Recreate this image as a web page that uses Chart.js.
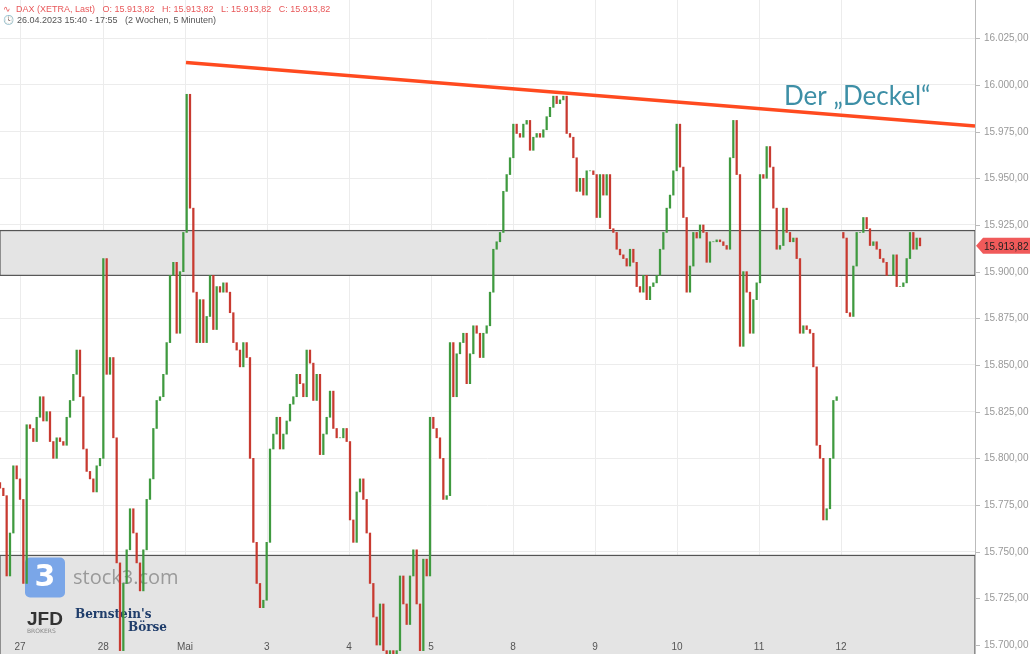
<!DOCTYPE html>
<html><head><meta charset="utf-8">
<script src="https://cdn.jsdelivr.net/npm/chart.js@4.4.1/dist/chart.umd.min.js"></script>
<style>html,body{margin:0;padding:0;background:#fff;}#w{position:relative;width:1030px;height:654px;}</style>
</head><body><div id="w"><canvas id="c" width="1030" height="654"></canvas></div>
<script>
const closes = [
15784,15780,15737,15760,15796,15789,15778,15733,15818,15816,15809,15822,15833,15820,15825,15809,15800,15811,15809,15807,
15822,15831,15845,15858,15833,15805,15793,15789,15782,15796,15800,15907,15845,15854,15811,15744,15697,15733,15751,15773,
15760,15744,15729,15751,15778,15789,15816,15831,15833,15845,15862,15898,15905,15867,15900,15921,15995,15934,15889,15862,
15885,15862,15876,15898,15869,15892,15889,15894,15889,15878,15862,15858,15849,15862,15854,15800,15755,15733,15720,15724,
15755,15805,15813,15822,15805,15813,15820,15829,15833,15845,15840,15833,15858,15851,15831,15845,15802,15813,15822,15836,
15816,15811,
15811,15816,15809,15767,15755,15782,15789,15778,15760,15733,15715,15700,15722,15697,15693,15697,15695,15697,15737,15722,
15711,15737,15751,15722,15697,15746,15737,15822,15816,15811,15800,15778,15780,15862,15833,15856,15862,15867,15840,15856,
15871,15867,15854,15867,15871,15889,15912,15916,15921,15943,15952,15961,15979,15974,15972,15979,15981,15965,15972,15974,
15972,15976,15983,15988,15994,15990,15992,15994,15974,15972,15961,15943,15950,15941,15954,15954,15952,15929,15952,15941,
15952,15923,15921,15912,15909,15907,15903,15912,15905,15892,15889,15898,15885,15892,15894,15898,15912,15921,15934,
15941,15954,15979,15956,15929,15889,15903,15921,15918,15925,15921,15905,15916,15916,15917,15916,15914,15912,15961,15981,
15952,15860,15900,15889,15867,15885,15894,15952,15950,15967,15956,15934,15912,15914,15934,15921,15916,15918,15907,15867,
15871,15869,15867,15849,15807,15800,15767,15773,15800,15831,15833,null,15918,15878,15876,15903,15921,15921,15929,15923,
15914,15916,15912,15907,15905,15898,15898,15909,15892,15892,15894,15907,15921,15912,15918,15913.82];
const dayLabels = ['27','28','Mai','3','4','5','8','9','10','11','12'];
const dayStarts = [6,31,55.5,80,104.7,129.3,153.9,178.5,203.1,227.7,252.3];
const yTicks = [15700,15725,15750,15775,15800,15825,15850,15875,15900,15925,15950,15975,16000,16025];
const trendX = [55.8,292.5];
const trendY = [16012,15978];
const zoneUpper = [15898,15922];
const zoneLower = [15600,15748];
const lastPrice = 15913.82;

const bodies=[], colors=[];
closes.forEach((c,i)=>{
  if(c===null){bodies.push({x:i,y:null});colors.push('#000');return;}
  const o = (i>0 && closes[i-1]!==null)? closes[i-1] : c+3;
  bodies.push({x:i,y:[o,c]});
  colors.push(c>=o?'#3f9a3f':'#c83a30');
});
const fmt=v=>v.toLocaleString('de-DE',{minimumFractionDigits:2,maximumFractionDigits:2});

const deco={id:'deco',
 beforeDatasetsDraw(ch){
  const {ctx,chartArea:a,scales:{x,y}}=ch;
  ctx.save();
  ctx.strokeStyle='#ececec';ctx.lineWidth=1;
  dayStarts.forEach(d=>{const px=Math.round(x.getPixelForValue(d))+0.5;ctx.beginPath();ctx.moveTo(px,0);ctx.lineTo(px,654);ctx.stroke();});
  [zoneUpper,zoneLower].forEach(z=>{
    const t=y.getPixelForValue(z[1]),b=Math.min(y.getPixelForValue(z[0]),680);
    ctx.fillStyle='#e4e4e4';ctx.fillRect(a.left,t,a.right-a.left,b-t);
    ctx.strokeStyle='#555';ctx.lineWidth=1.2;ctx.strokeRect(a.left,t,a.right-a.left,b-t);
  });
  const lx=x.getPixelForValue(7.5), ly=y.getPixelForValue(15748)+2;
  ctx.fillStyle='#7aa6e8';ctx.beginPath();ctx.roundRect(lx,ly,40,40,5);ctx.fill();
  ctx.fillStyle='#fff';ctx.font='bold 30px "DejaVu Sans"';ctx.textAlign='center';ctx.textBaseline='middle';ctx.fillText('3',lx+20,ly+21);
  ctx.fillStyle='#9a9a9a';ctx.font='20px "Open Sans"';ctx.textAlign='left';ctx.fillText('stock3.com',lx+48,ly+21);
  ctx.fillStyle='#333';ctx.font='bold 19px "Liberation Sans"';ctx.fillText('JFD',lx+2,ly+62);
  ctx.font='6px "DejaVu Sans"';ctx.fillStyle='#888';ctx.fillText('BROKERS',lx+2,ly+74);
  ctx.fillStyle='#1f3d6b';ctx.font='bold 12px "DejaVu Serif"';ctx.fillText("Bernstein's",lx+50,ly+57);
  ctx.fillText('Börse',lx+103,ly+70);
  ctx.restore();
 },
 afterDraw(ch){
  const {ctx,chartArea:a,scales:{x,y}}=ch;
  ctx.save();
  ctx.textBaseline='middle';
  ctx.strokeStyle='#bbb';ctx.lineWidth=1;ctx.fillStyle='#999';ctx.font='10px "Liberation Sans"';ctx.textAlign='left';
  ctx.beginPath();ctx.moveTo(a.right+0.5,0);ctx.lineTo(a.right+0.5,654);ctx.stroke();
  yTicks.forEach(v=>{const py=Math.round(y.getPixelForValue(v))+0.5;ctx.beginPath();ctx.moveTo(a.right,py);ctx.lineTo(a.right+5,py);ctx.stroke();ctx.fillText(fmt(v),a.right+9,py);});
  ctx.fillStyle='#555';ctx.textAlign='center';
  dayStarts.forEach((d,i)=>ctx.fillText(dayLabels[i],x.getPixelForValue(d),647));
  ctx.fillStyle='#3d8fa6';ctx.font='26px "Lato"';ctx.textAlign='left';ctx.fillText('Der „Deckel“',784,97);
  ctx.font='9px "Liberation Sans"';ctx.fillStyle='#e8585a';
  ctx.fillText('∿  DAX (XETRA, Last)   O: 15.913,82   H: 15.913,82   L: 15.913,82   C: 15.913,82',3,10);
  ctx.fillStyle='#555';ctx.fillText('🕓',3,21);
  ctx.fillText('26.04.2023 15:40 - 17:55   (2 Wochen, 5 Minuten)',17,21);
  const py=y.getPixelForValue(lastPrice);
  ctx.fillStyle='#f05a5a';ctx.beginPath();ctx.moveTo(976,py);ctx.lineTo(983,py-8);ctx.lineTo(1030,py-8);ctx.lineTo(1030,py+8);ctx.lineTo(983,py+8);ctx.closePath();ctx.fill();
  ctx.fillStyle='#222';ctx.font='10px "Liberation Sans"';ctx.fillText(fmt(lastPrice),984,py+1);
  ctx.restore();
 }};

new Chart(document.getElementById('c'),{
 type:'bar',
 data:{datasets:[
  {type:'line',data:trendX.map((v,i)=>({x:v,y:trendY[i]})),borderColor:'#ff4a1f',borderWidth:3.5,pointRadius:0,order:0},
  {data:bodies,backgroundColor:colors,borderColor:colors,barThickness:1.6,order:1}
 ]},
 options:{responsive:false,animation:false,
  layout:{padding:0},
  plugins:{legend:{display:false},tooltip:{enabled:false}},
  scales:{
   x:{type:'linear',min:0,max:292.5,display:false,offset:false},
   y:{position:'right',min:15695.2,max:16045.5,
      afterBuildTicks:s=>{s.ticks=yTicks.map(v=>({value:v}));},
      afterFit:s=>{s.width=55;},
      grid:{color:'#ececec',drawTicks:false},
      border:{display:false},
      ticks:{display:false}}
  }},
 plugins:[deco]
});
</script></body></html>
